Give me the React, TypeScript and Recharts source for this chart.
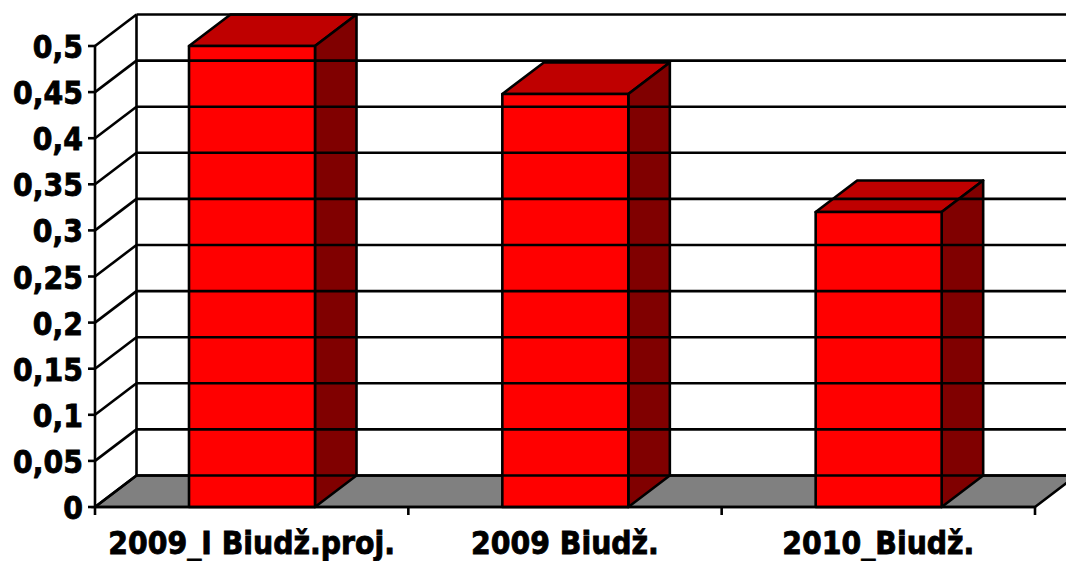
import React from 'react';
import { BarChart, Bar, XAxis, YAxis, usePlotArea } from 'recharts';

const categories = ['2009_I Biudž.proj.', '2009 Biudž.', '2010_Biudž.'];
const values = [0.5, 0.448, 0.32];
const yTicks = [0, 0.05, 0.1, 0.15, 0.2, 0.25, 0.3, 0.35, 0.4, 0.45, 0.5];

const data = categories.map((name, i) => ({ name, value: values[i] }));

const DX = 41.5;
const DY = 31.5;
const SW = 2.6;
const FONT: React.CSSProperties = {
  fontFamily: '"DejaVu Sans", sans-serif',
  fontWeight: 700,
  fontStretch: 'condensed',
  stroke: '#000',
  strokeWidth: 0.8,
};

function Walls() {
  const p = usePlotArea();
  if (!p) return null;
  const bottom = p.y + p.height;
  const right = p.x + p.width;
  const band = p.width / categories.length;
  return (
    <g>
      <polygon
        points={`${p.x},${bottom} ${p.x + DX},${bottom - DY} ${right + DX},${bottom - DY} ${right},${bottom}`}
        fill="#808080"
        stroke="#000"
        strokeWidth={SW}
      />
      <line x1={p.x + DX} x2={p.x + DX} y1={p.y - DY} y2={bottom - DY} stroke="#000" strokeWidth={SW} />
      {Array.from({ length: categories.length + 1 }, (_, i) => (
        <line key={i} x1={p.x + band * i} x2={p.x + band * i} y1={bottom} y2={bottom + 8} stroke="#000" strokeWidth={SW} />
      ))}
    </g>
  );
}

function YTick(props: any) {
  const { x, y, payload } = props;
  const axisX = x + 12;
  return (
    <g>
      <line x1={axisX} y1={y} x2={axisX + DX} y2={y - DY} stroke="#000" strokeWidth={SW} />
      <line x1={axisX + DX} y1={y - DY} x2={1100} y2={y - DY} stroke="#000" strokeWidth={SW} />
      <text x={x} y={y} dy={12} textAnchor="end" fontSize={31.5} fill="#000" style={FONT}>
        {String(payload.value).replace('.', ',')}
      </text>
    </g>
  );
}

function XTick(props: any) {
  const { x, y, payload } = props;
  return (
    <text x={x} y={y} dy={39} textAnchor="middle" fontSize={31.5} fill="#000" style={FONT}>
      {payload.value}
    </text>
  );
}

function Bar3D(props: any) {
  const { x, y, width, height } = props;
  return (
    <g stroke="#000" strokeWidth={SW} strokeLinejoin="round">
      <polygon points={`${x},${y} ${x + DX},${y - DY} ${x + width + DX},${y - DY} ${x + width},${y}`} fill="#bf0000" />
      <polygon
        points={`${x + width},${y} ${x + width + DX},${y - DY} ${x + width + DX},${y + height - DY} ${x + width},${y + height}`}
        fill="#800000"
      />
      <rect x={x} y={y} width={width} height={height} fill="#ff0000" />
    </g>
  );
}

export default function App() {
  return (
    <div style={{ position: 'absolute', left: 0, top: 0, width: 1066, height: 561, background: '#fff' }}>
      <BarChart width={1066} height={561} data={data} margin={{ top: 46, right: 31, bottom: 0, left: 0 }}>
        <Walls />
        <YAxis
          width={95}
          domain={[0, 0.5]}
          ticks={yTicks}
          interval={0}
          tick={<YTick />}
          tickSize={7}
          tickMargin={5}
          stroke="#000"
          strokeWidth={SW}
          tickLine={{ stroke: '#000', strokeWidth: SW }}
          axisLine={{ stroke: '#000', strokeWidth: SW }}
        />
        <XAxis
          dataKey="name"
          height={54}
          tick={<XTick />}
          interval={0}
          tickLine={false}
          axisLine={{ stroke: '#000', strokeWidth: SW }}
        />
        <Bar dataKey="value" barSize={126} shape={<Bar3D />} isAnimationActive={false} />
      </BarChart>
    </div>
  );
}
